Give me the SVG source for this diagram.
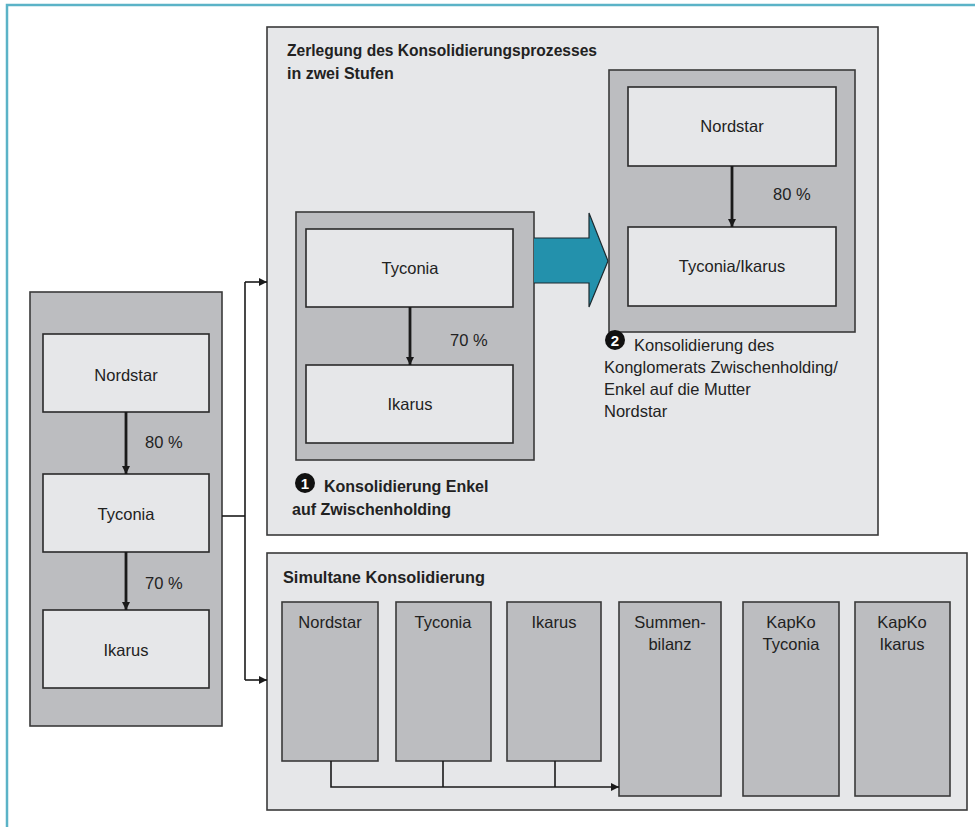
<svg xmlns="http://www.w3.org/2000/svg" width="975" height="827" viewBox="0 0 975 827">
<defs>
<style>
.frame{stroke:#5BB3C7;stroke-width:2.5;fill:none}
.panel{fill:#E6E7E9;stroke:#3a3a3a;stroke-width:1.6}
.gray{fill:#BCBDC0;stroke:#3a3a3a;stroke-width:1.6}
.box{fill:#E6E7E9;stroke:#2a2a2a;stroke-width:1.6}
.t{font-family:"Liberation Sans",Arial,sans-serif;font-size:16.5px;fill:#222}
.c{text-anchor:middle}
.b{font-weight:bold;font-size:16px}
.thick{stroke:#1a1a1a;stroke-width:2.8;fill:none}
.thin{stroke:#1a1a1a;stroke-width:1.6;fill:none}
.num{font-family:"Liberation Sans",Arial,sans-serif;font-size:15px;font-weight:bold;fill:#fff;text-anchor:middle}
</style>
<marker id="ah" viewBox="0 0 10 10" refX="10" refY="5" markerWidth="3" markerHeight="3.4" orient="auto" markerUnits="strokeWidth">
<path d="M0,0 L10,5 L0,10 z" fill="#1a1a1a"/>
</marker>
<marker id="ah2" viewBox="0 0 10 10" refX="10" refY="5" markerWidth="5" markerHeight="5" orient="auto" markerUnits="strokeWidth">
<path d="M0,0 L10,5 L0,10 z" fill="#1a1a1a"/>
</marker>
</defs>
<rect width="975" height="827" fill="#fff"/>
<path class="frame" d="M7,827 L7,5 L975,5"/>

<g id="panel-left">
<rect class="gray" x="30" y="292" width="192" height="434"/>
</g>
<g id="node-left-nordstar">
<rect class="box" x="43" y="334" width="166" height="78"/>
<text class="t c" x="126" y="381">Nordstar</text>
</g>
<g id="node-left-tyconia">
<rect class="box" x="43" y="474" width="166" height="78"/>
<text class="t c" x="126" y="520">Tyconia</text>
</g>
<g id="node-left-ikarus">
<rect class="box" x="43" y="610" width="166" height="78"/>
<text class="t c" x="126" y="656">Ikarus</text>
</g>

<g id="panel-top">
<rect class="panel" x="267" y="27" width="611" height="508"/>
<text class="t b" x="287" y="56" textLength="310" lengthAdjust="spacingAndGlyphs">Zerlegung des Konsolidierungsprozesses</text>
<text class="t b" x="287" y="79">in zwei Stufen</text>
</g>
<g id="group-step1">
<rect class="gray" x="296" y="212" width="238" height="248"/>
</g>
<g id="node-s1-tyconia">
<rect class="box" x="306" y="229" width="207" height="78"/>
<text class="t c" x="410" y="274">Tyconia</text>
</g>
<g id="node-s1-ikarus">
<rect class="box" x="306" y="365" width="207" height="78"/>
<text class="t c" x="410" y="410">Ikarus</text>
</g>
<g id="label-step1">
<circle cx="305" cy="483" r="10" fill="#111"/>
<text class="num" x="305" y="488.5">1</text>
<text class="t b" x="324" y="492">Konsolidierung Enkel</text>
<text class="t b" x="292" y="515">auf Zwischenholding</text>
</g>
<g id="arrow-teal">
<path d="M534,238 L589,238 L589,213 L608,261 L589,307 L589,283 L534,283" fill="#2391AC" stroke="#1d2b30" stroke-width="1.2"/>
</g>
<g id="group-step2">
<rect class="gray" x="609" y="70" width="246" height="262"/>
</g>
<g id="node-s2-nordstar">
<rect class="box" x="628" y="87" width="208" height="79"/>
<text class="t c" x="732" y="132">Nordstar</text>
</g>
<g id="node-s2-tyconia-ikarus">
<rect class="box" x="628" y="227" width="208" height="79"/>
<text class="t c" x="732" y="272">Tyconia/Ikarus</text>
</g>
<g id="label-step2">
<circle cx="615" cy="340" r="10" fill="#111"/>
<text class="num" x="615" y="345.5">2</text>
<text class="t" x="634" y="351">Konsolidierung des</text>
<text class="t" x="604" y="373">Konglomerats Zwischenholding/</text>
<text class="t" x="604" y="395">Enkel auf die Mutter</text>
<text class="t" x="604" y="417">Nordstar</text>
</g>

<g id="panel-bottom">
<rect class="panel" x="267" y="553" width="700" height="257"/>
<text class="t b" x="283" y="583" textLength="202" lengthAdjust="spacingAndGlyphs">Simultane Konsolidierung</text>
</g>
<g id="node-b-nordstar">
<rect class="gray" x="282" y="602" width="96" height="159"/>
<text class="t c" x="330" y="628">Nordstar</text>
</g>
<g id="node-b-tyconia">
<rect class="gray" x="396" y="602" width="95" height="159"/>
<text class="t c" x="443" y="628">Tyconia</text>
</g>
<g id="node-b-ikarus">
<rect class="gray" x="507" y="602" width="94" height="159"/>
<text class="t c" x="554" y="628">Ikarus</text>
</g>
<g id="node-b-summenbilanz">
<rect class="gray" x="619" y="602" width="102" height="194"/>
<text class="t c" x="670" y="628">Summen-</text>
<text class="t c" x="670" y="650">bilanz</text>
</g>
<g id="node-b-kapko-tyconia">
<rect class="gray" x="743" y="602" width="96" height="194"/>
<text class="t c" x="791" y="628">KapKo</text>
<text class="t c" x="791" y="650">Tyconia</text>
</g>
<g id="node-b-kapko-ikarus">
<rect class="gray" x="855" y="602" width="95" height="194"/>
<text class="t c" x="902" y="628">KapKo</text>
<text class="t c" x="902" y="650">Ikarus</text>
</g>

<g id="connectors">
<path class="thick" d="M126,412 L126,474" marker-end="url(#ah)"/>
<path class="thick" d="M126,552 L126,610" marker-end="url(#ah)"/>
<text class="t" x="145" y="448">80 %</text>
<text class="t" x="145" y="589">70 %</text>
<path class="thick" d="M410,307 L410,365" marker-end="url(#ah)"/>
<text class="t" x="450" y="346">70 %</text>
<path class="thick" d="M732,166 L732,227" marker-end="url(#ah)"/>
<text class="t" x="773" y="200">80 %</text>
<path class="thin" d="M222,516 L245,516"/>
<path class="thin" d="M245,282 L245,680"/>
<path class="thin" d="M245,282 L267,282" marker-end="url(#ah2)"/>
<path class="thin" d="M245,680 L267,680" marker-end="url(#ah2)"/>
<path class="thin" d="M331,761 L331,787 L619,787" marker-end="url(#ah2)"/>
<path class="thin" d="M443,761 L443,787"/>
<path class="thin" d="M555,761 L555,787"/>
</g>
</svg>
